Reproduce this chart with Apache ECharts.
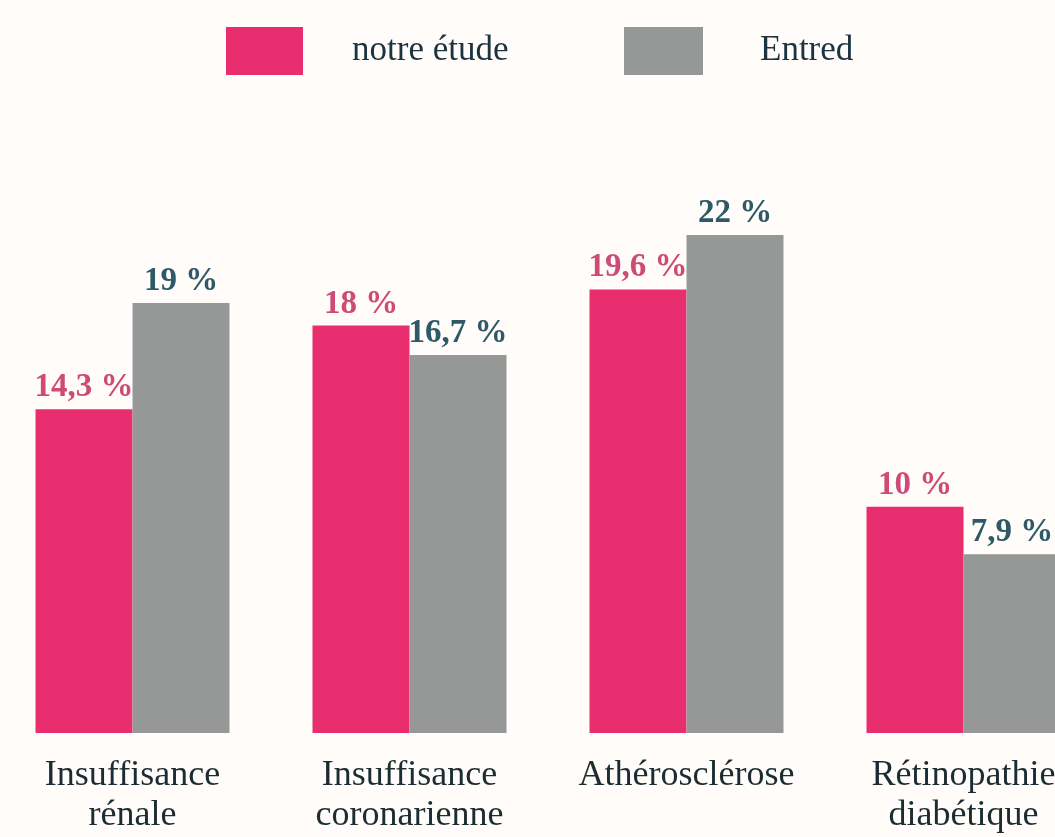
<!DOCTYPE html>
<html>
<head>
<meta charset="utf-8">
<style>
  html, body { margin: 0; padding: 0; background: #fffcfa; }
  #chart { width: 1055px; height: 837px; }
</style>
<script src="https://cdn.jsdelivr.net/npm/echarts@6/dist/echarts.min.js"></script>
</head>
<body>
<div id="chart"></div>
<script>
const categories = ['Insuffisance\nrénale', 'Insuffisance\ncoronarienne', 'Athérosclérose', 'Rétinopathie\ndiabétique']
const notreEtude = [14.3, 18, 19.6, 10]
const entred = [19, 16.7, 22, 7.9]

const pink = '#e92e6f'
const grey = '#959896'
const font = 'Liberation Serif'

function pct(p) {
  return String(p.value).replace('.', ',') + ' %'
}

const chart = echarts.init(document.getElementById('chart'))
chart.setOption({
  backgroundColor: '#fffcfa',
  animation: false,
  textStyle: { fontFamily: font },
  legend: [{
    data: ['notre étude'],
    left: 226,
    top: 27,
    padding: 0,
    itemWidth: 77,
    itemHeight: 48,
    icon: 'rect',
    textStyle: { fontFamily: font, fontSize: 35, color: '#1b3440', padding: [6, 0, 0, 44] }
  }, {
    data: ['Entred'],
    left: 624,
    top: 27,
    padding: 0,
    itemWidth: 79,
    itemHeight: 48,
    icon: 'rect',
    textStyle: { fontFamily: font, fontSize: 35, color: '#1b3440', padding: [6, 0, 0, 52] }
  }],
  grid: {
    left: -6,
    right: -47,
    top: 54,
    bottom: 104,
    containLabel: false,
    outerBoundsMode: 'none'
  },
  xAxis: {
    type: 'category',
    data: categories,
    axisLine: { show: false },
    axisTick: { show: false },
    axisLabel: {
      margin: 23,
      interval: 0,
      fontFamily: font,
      fontSize: 36,
      lineHeight: 40,
      color: '#1b2d33'
    }
  },
  yAxis: {
    type: 'value',
    min: 0,
    max: 30,
    show: false,
    splitLine: { show: false }
  },
  series: [{
    name: 'notre étude',
    type: 'bar',
    barWidth: 97,
    barGap: 0,
    itemStyle: { color: pink },
    label: {
      show: true,
      position: 'top',
      distance: 5,
      formatter: pct,
      fontFamily: font,
      fontWeight: 'bold',
      fontSize: 33,
      color: '#cf4a78'
    },
    data: notreEtude
  }, {
    name: 'Entred',
    type: 'bar',
    barWidth: 97,
    barGap: 0,
    itemStyle: { color: grey },
    label: {
      show: true,
      position: 'top',
      distance: 5,
      formatter: pct,
      fontFamily: font,
      fontWeight: 'bold',
      fontSize: 33,
      color: '#2e5a68'
    },
    data: entred
  }]
})
</script>
</body>
</html>
